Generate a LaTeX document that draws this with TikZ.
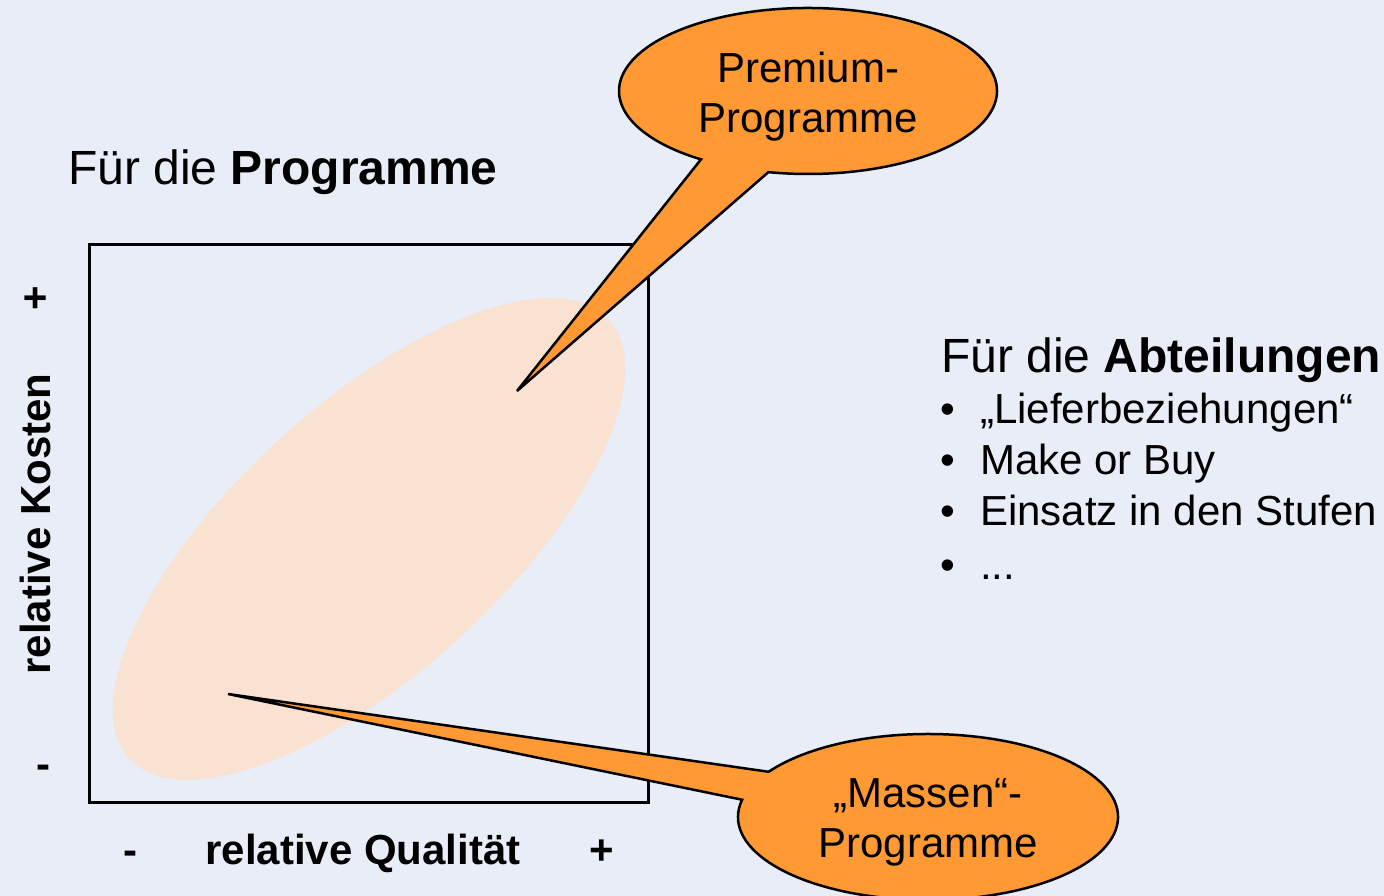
\documentclass[tikz,border=0pt]{standalone}
\usepackage{fontspec}
\setmainfont{Liberation Sans}
\definecolor{bg}{HTML}{E8EDF7}
\definecolor{orng}{HTML}{FF9933}
\definecolor{peach}{HTML}{FAE2D2}
\begin{document}
\begin{tikzpicture}[x=1pt,y=1pt,
  callout/.style={fill=orng,draw=black,line width=2.5pt,line join=miter},
  big/.style={font=\fontsize{48}{56}\selectfont, inner sep=0pt, anchor=base west},
  txt/.style={font=\fontsize{42}{50}\selectfont, inner sep=0pt},
  bld/.style={font=\fontsize{42}{50}\selectfont\bfseries, inner sep=0pt}]
\fill[bg] (0,0) rectangle (1384,896);
\useasboundingbox (0,0) rectangle (1384,896);
% cloud of programmes
\fill[peach, rotate around={42.5:(369,357)}] (369,357) ellipse [x radius=325pt, y radius=134pt];
% portfolio box
\node[draw, line width=3pt, minimum width=559pt, minimum height=558pt, inner sep=0pt] (box) at (368.5,372) {};
% premium callout
\coordinate (ptip) at (517,505);
\path (808,805) ++(257.9:189pt and 83pt) coordinate (p1);
\draw[callout] (p1) arc[start angle=257.9, end angle=595.5, x radius=189pt, y radius=83pt] -- (ptip) -- cycle;
\node[txt, anchor=base] (pA) at (808,813) {Premium-};
\node[txt, anchor=base] (pB) at (808,763) {Programme};
% mass callout
\coordinate (mtip) at (228,202);
\path (928,79) ++(168:190pt and 83pt) coordinate (m1);
\draw[callout] (m1) arc[start angle=168, end angle=507, x radius=190pt, y radius=83pt] -- (mtip) -- cycle;
\node[txt, anchor=base] (mA) at (928,88) {„Massen“-};
\node[txt, anchor=base] (mB) at (928,38) {Programme};
% headings
\node[big] (h1) at (68,711) {Für die \textbf{Programme}};
\node[big] (h2) at (941,523) {Für die \textbf{Abteilungen}};
% bullets
\node[txt, anchor=base] (d1) at (948,472) {\textbullet};
\node[txt, anchor=base west] (l1) at (980,472) {„Lieferbeziehungen“};
\node[txt, anchor=base] (d2) at (948,421) {\textbullet};
\node[txt, anchor=base west] (l2) at (980,421) {Make or Buy};
\node[txt, anchor=base] (d3) at (948,370) {\textbullet};
\node[txt, anchor=base west] (l3) at (980,370) {Einsatz in den Stufen};
\node[txt, anchor=base] (d4) at (948,316) {\textbullet};
\node[txt, anchor=base west] (l4) at (980,316) {...};
% axes labels
\node[bld, anchor=base] (xl) at (363,31) {relative Qualität};
\node[bld, anchor=base] (xm) at (130,31) {-};
\node[bld, anchor=base] (xp) at (602,31) {+};
\node[bld, anchor=base, rotate=90] (yl) at (50,372) {relative Kosten};
\node[bld, anchor=base, rotate=90] (yp) at (49,598) {+};
\node[bld, anchor=base] (ym) at (43,117) {-};
\end{tikzpicture}
\end{document}
